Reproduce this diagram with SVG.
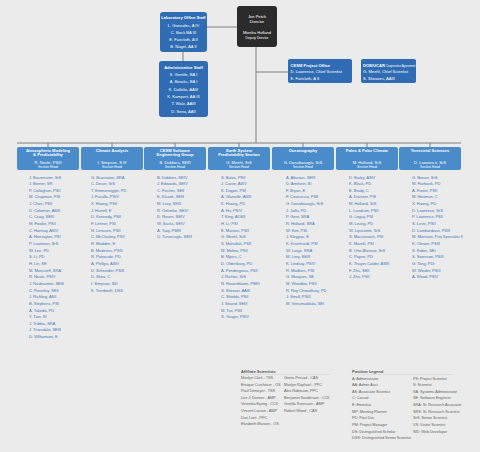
<svg xmlns="http://www.w3.org/2000/svg" width="480" height="452" viewBox="0 0 480 452">
<style>
text{font-family:"Liberation Sans",Arial,sans-serif}
.top{fill:#2f6cb3}
.dir{fill:#2b2b2b}
.sec{fill:#4a8cca}
.w{fill:#fff;font-size:4.1px;text-anchor:middle}
.wl{fill:#fff;font-size:4.1px}
.b{font-weight:bold}
.s{font-size:3.3px}
.ln{stroke:#7f7f7f;stroke-width:1;fill:none}
.li{fill:#4379bd;font-size:4.1px;letter-spacing:-0.08px}
.bt{fill:#666;font-size:3.9px;letter-spacing:-0.08px}
.bh{fill:#555;font-size:4px;font-weight:bold}
</style>
<rect width="480" height="452" fill="#ebebeb"/>
<g id="connectors">
<path class="ln" d="M207 27H237M183 52V61M256 47V143M256 72H288M17 143H461"/>
<path class="ln" d="M48 143V147M112 143V147M175 143V147M239 143V147M303 143V147M367 143V147M430 143V147"/>
</g>
<g id="lab-office">
<rect class="top" x="160" y="12" width="47" height="40" rx="3"/>
<text class="w b" x="183.5" y="18.5">Laboratory Office Staff</text>
<text class="w" x="183.5" y="26.5">L. Gonzales, A IV</text>
<text class="w" x="183.5" y="33.5">C. Bock BA III</text>
<text class="w" x="183.5" y="40.5">E. Faircloth, A II</text>
<text class="w" x="183.5" y="48">B. Nagel, AA II</text>
</g>
<g id="director">
<rect class="dir" x="237" y="6" width="40" height="41" rx="3"/>
<text class="w" x="257" y="17.5">Jon Petch</text>
<text class="w" x="257" y="23">Director</text>
<text class="w" x="257" y="33.5">Monika Holland</text>
<text class="w s" x="257" y="38.5">Deputy Director</text>
</g>
<g id="admin-staff">
<rect class="top" x="159" y="61" width="49" height="56" rx="3"/>
<text class="w b" x="183.5" y="68.5">Administrative Staff</text>
<text class="w" x="183.5" y="76">S. Gentile, BA I</text>
<text class="w" x="183.5" y="83.3">A. Brooks, BA I</text>
<text class="w" x="183.5" y="90.6">K. Dallolio, AAIII</text>
<text class="w" x="183.5" y="97.9">K. Kampert, AA III</text>
<text class="w" x="183.5" y="105.2">T. Walz, AAIII</text>
<text class="w" x="183.5" y="112.5">D. Sena, AAII</text>
</g>
<g id="cesm-project-office">
<rect class="top" x="288" y="59" width="64" height="24" rx="2"/>
<text class="wl b" x="290.5" y="66.5">CESM Project Office</text>
<text class="wl" x="290.5" y="73.3">D. Lawrence, Chief Scientist</text>
<text class="wl" x="290.5" y="79.8">E. Faircloth, A II</text>
</g>
<g id="doe-ucar">
<rect class="top" x="361" y="59" width="55" height="24" rx="2"/>
<text class="wl" x="363" y="66.5"><tspan class="b">DOE/UCAR</tspan> <tspan font-size="2.8">Cooperative Agreement</tspan></text>
<text class="wl" x="363" y="73.3">G. Meehl, Chief Scientist</text>
<text class="wl" x="363" y="79.8">S. Sheaves, AAIII</text>
</g>
<g id="sec-atm">
<rect class="sec" x="17" y="147" width="62" height="23" rx="2"/>
<text class="w b" x="48" y="151.5">Atmospheric Modeling</text>
<text class="w b" x="48" y="156">&amp; Predictability</text>
<text class="w" x="48" y="163.5">R. Neale, PSIII</text>
<text class="w s" x="48" y="167.5">Section Head</text>
<text class="li" y="178.5"><tspan x="29">J. Bacmeister, SrS</tspan><tspan x="29" dy="6.65">J. Berner, SR</tspan><tspan x="29" dy="6.65">P. Callaghan, PSII</tspan><tspan x="29" dy="6.65">M. Chapman, PSI</tspan><tspan x="29" dy="6.65">J. Chen, PSII</tspan><tspan x="29" dy="6.65">D. Coleman, ASIII</tspan><tspan x="29" dy="6.65">C. Craig, SEIII</tspan><tspan x="29" dy="6.65">M. Fowler, PSII</tspan><tspan x="29" dy="6.65">C. Hannay, ASIV</tspan><tspan x="29" dy="6.65">A. Herrington, PSI</tspan><tspan x="29" dy="6.65">P. Lauritzen, SrS</tspan><tspan x="29" dy="6.65">W. Lee, PD</tspan><tspan x="29" dy="6.65">S. Li, PD</tspan><tspan x="29" dy="6.65">H. Lin, SE</tspan><tspan x="29" dy="6.65">M. Moncrieff, SRA</tspan><tspan x="29" dy="6.65">R. Neale, PSIV</tspan><tspan x="29" dy="6.65">J. Nusbaumer, SEIII</tspan><tspan x="29" dy="6.65">C. Peverley, SEII</tspan><tspan x="29" dy="6.65">J. Richling, ASII</tspan><tspan x="29" dy="6.65">B. Stephens, PSI</tspan><tspan x="29" dy="6.65">A. Takeda, PD</tspan><tspan x="29" dy="6.65">Y. Tian, SI</tspan><tspan x="29" dy="6.65">J. Tribbia, SRA</tspan><tspan x="29" dy="6.65">J. Truesdale, SEIII</tspan><tspan x="29" dy="6.65">D. Williamson, E</tspan></text>
</g>
<g id="sec-climate">
<rect class="sec" x="81" y="147" width="62" height="23" rx="2"/>
<text class="w b" x="112" y="152">Climate Analysis</text>
<text class="w" x="112" y="163.5">I. Simpson, S III</text>
<text class="w s" x="112" y="167.5">Section Head</text>
<text class="li" y="178.5"><tspan x="91">G. Branstator, SRA</tspan><tspan x="91" dy="6.65">C. Deser, SrS</tspan><tspan x="91" dy="6.65">T. Emmenegger, PD</tspan><tspan x="91" dy="6.65">J. Fasullo, PSIV</tspan><tspan x="91" dy="6.65">X. Huang, PSII</tspan><tspan x="91" dy="6.65">J. Hurrell, E</tspan><tspan x="91" dy="6.65">D. Kennedy, PSII</tspan><tspan x="91" dy="6.65">F. Lehner, PSI</tspan><tspan x="91" dy="6.65">N. Lenssen, PSII</tspan><tspan x="91" dy="6.65">C. McCluskey, PSII</tspan><tspan x="91" dy="6.65">R. Madden, E</tspan><tspan x="91" dy="6.65">B. Medeiros, PSIII</tspan><tspan x="91" dy="6.65">R. Patnaude, PD</tspan><tspan x="91" dy="6.65">A. Phillips, ASIV</tspan><tspan x="91" dy="6.65">D. Schneider, PSIII</tspan><tspan x="91" dy="6.65">D. Shea, C</tspan><tspan x="91" dy="6.65">I. Simpson, SIII</tspan><tspan x="91" dy="6.65">K. Trenberth, DSS</tspan></text>
</g>
<g id="sec-cesm-seg">
<rect class="sec" x="144" y="147" width="62" height="23" rx="2"/>
<text class="w b" x="175" y="151.5">CESM Software</text>
<text class="w b" x="175" y="156">Engineering Group</text>
<text class="w" x="175" y="163.5">B. Dobbins, SEIII</text>
<text class="w s" x="175" y="167.5">Section Head</text>
<text class="li" y="178.5"><tspan x="157">B. Dobbins, SEIV</tspan><tspan x="157" dy="6.65">J. Edwards, SEIV</tspan><tspan x="157" dy="6.65">C. Fischer, SEII</tspan><tspan x="157" dy="6.65">E. Kluzek, SEIII</tspan><tspan x="157" dy="6.65">M. Levy, SEIII</tspan><tspan x="157" dy="6.65">R. Oehmke, SEIV</tspan><tspan x="157" dy="6.65">D. Rosen, SEIV</tspan><tspan x="157" dy="6.65">W. Sacks, SEIV</tspan><tspan x="157" dy="6.65">A. Tsay, PMIII</tspan><tspan x="157" dy="6.65">U. Turuncoglu, SEIII</tspan></text>
</g>
<g id="sec-esp">
<rect class="sec" x="208" y="147" width="62" height="23" rx="2"/>
<text class="w b" x="239" y="151.5">Earth System</text>
<text class="w b" x="239" y="156">Predictability Section</text>
<text class="w" x="239" y="163.5">G. Meehl, SrS</text>
<text class="w s" x="239" y="167.5">Section Head</text>
<text class="li" y="178.5"><tspan x="221">S. Bates, PSII</tspan><tspan x="221" dy="6.65">J. Caron, ASIV</tspan><tspan x="221" dy="6.65">K. Dagon, PSI</tspan><tspan x="221" dy="6.65">A. Glanville, ASIII</tspan><tspan x="221" dy="6.65">K. Huang, PD</tspan><tspan x="221" dy="6.65">A. Hu, PSIV</tspan><tspan x="221" dy="6.65">T. King, ADSII</tspan><tspan x="221" dy="6.65">H. Li, PSI</tspan><tspan x="221" dy="6.65">E. Maroon, PSII</tspan><tspan x="221" dy="6.65">G. Meehl, SrS</tspan><tspan x="221" dy="6.65">S. Mahallak, PSII</tspan><tspan x="221" dy="6.65">M. Molina, PSII</tspan><tspan x="221" dy="6.65">B. Myers, C</tspan><tspan x="221" dy="6.65">D. Oldenburg, PD</tspan><tspan x="221" dy="6.65">A. Pendergrass, PSII</tspan><tspan x="221" dy="6.65">J. Richter, SrS</tspan><tspan x="221" dy="6.65">N. Rosenbloom, PMIII</tspan><tspan x="221" dy="6.65">S. Shearer, AAIII</tspan><tspan x="221" dy="6.65">C. Shields, PSII</tspan><tspan x="221" dy="6.65">J. Strand, SEIII</tspan><tspan x="221" dy="6.65">M. Tso, PSII</tspan><tspan x="221" dy="6.65">S. Yeager, PSIV</tspan></text>
</g>
<g id="sec-ocean">
<rect class="sec" x="272" y="147" width="62" height="23" rx="2"/>
<text class="w b" x="303" y="152">Oceanography</text>
<text class="w" x="303" y="163.5">G. Danabasoglu, SrS</text>
<text class="w s" x="303" y="167.5">Section Head</text>
<text class="li" y="178.5"><tspan x="286">A. Altuntas, SEIII</tspan><tspan x="286" dy="6.65">D. Amrhein, SI</tspan><tspan x="286" dy="6.65">F. Bryan, E</tspan><tspan x="286" dy="6.65">F. Castruccio, PSII</tspan><tspan x="286" dy="6.65">G. Danabasoglu, SrS</tspan><tspan x="286" dy="6.65">J. Jaffa, PD</tspan><tspan x="286" dy="6.65">P. Gent, SRA</tspan><tspan x="286" dy="6.65">R. Holland, SRA</tspan><tspan x="286" dy="6.65">W. Kim, PSI</tspan><tspan x="286" dy="6.65">J. Kleypas, E</tspan><tspan x="286" dy="6.65">K. Krumhardt, PSI</tspan><tspan x="286" dy="6.65">W. Large, SRA</tspan><tspan x="286" dy="6.65">M. Levy, SEIII</tspan><tspan x="286" dy="6.65">K. Lindsay, PSIV</tspan><tspan x="286" dy="6.65">R. Madkins, PSI</tspan><tspan x="286" dy="6.65">G. Marques, SE</tspan><tspan x="286" dy="6.65">M. Woodlon, PSII</tspan><tspan x="286" dy="6.65">R. Roy Chowdhury, PD</tspan><tspan x="286" dy="6.65">J. Small, PSIII</tspan><tspan x="286" dy="6.65">M. Venumuddula, SEI</tspan></text>
</g>
<g id="sec-paleo">
<rect class="sec" x="336" y="147" width="62" height="23" rx="2"/>
<text class="w b" x="367" y="152">Paleo &amp; Polar Climate</text>
<text class="w" x="367" y="163.5">M. Holland, SrS</text>
<text class="w s" x="367" y="167.5">Section Head</text>
<text class="li" y="178.5"><tspan x="349">D. Bailey, ASIV</tspan><tspan x="349" dy="6.65">K. Black, PD</tspan><tspan x="349" dy="6.65">E. Brady, C</tspan><tspan x="349" dy="6.65">A. Duvivier, PSI</tspan><tspan x="349" dy="6.65">M. Holland, SrS</tspan><tspan x="349" dy="6.65">L. Landrum, PSII</tspan><tspan x="349" dy="6.65">G. Leguy, PSI</tspan><tspan x="349" dy="6.65">M. Leung, PD</tspan><tspan x="349" dy="6.65">W. Lipscomb, SrS</tspan><tspan x="349" dy="6.65">S. Macarewich, PSI</tspan><tspan x="349" dy="6.65">K. Marelli, PSI</tspan><tspan x="349" dy="6.65">B. Otto-Bliesner, SrS</tspan><tspan x="349" dy="6.65">C. Payne, PD</tspan><tspan x="349" dy="6.65">K. Thayer-Calder, ASIII</tspan><tspan x="349" dy="6.65">F. Zhu, SEII</tspan><tspan x="349" dy="6.65">J. Zhu, PSII</tspan></text>
</g>
<g id="sec-terr">
<rect class="sec" x="399" y="147" width="62" height="23" rx="2"/>
<text class="w b" x="430" y="152">Terrestrial Sciences</text>
<text class="w" x="430" y="163.5">D. Lawrence, SrS</text>
<text class="w s" x="430" y="167.5">Section Head</text>
<text class="li" y="178.5"><tspan x="412">G. Bonan, SrS</tspan><tspan x="412" dy="6.65">M. Fairbank, PD</tspan><tspan x="412" dy="6.65">A. Foster, PSII</tspan><tspan x="412" dy="6.65">M. Hartman, C</tspan><tspan x="412" dy="6.65">X. Huang, PD</tspan><tspan x="412" dy="6.65">D. Lawrence, SrS</tspan><tspan x="412" dy="6.65">P. Lawrence, PSII</tspan><tspan x="412" dy="6.65">S. Levis, PSII</tspan><tspan x="412" dy="6.65">D. Lombardozzi, PSIII</tspan><tspan x="412" dy="6.65">M. Morrison, Proj Specialist II</tspan><tspan x="412" dy="6.65">K. Oleson, PSIII</tspan><tspan x="412" dy="6.65">S. Rabin, SEI</tspan><tspan x="412" dy="6.65">S. Swenson, PSIII</tspan><tspan x="412" dy="6.65">G. Tang, PDI</tspan><tspan x="412" dy="6.65">W. Wieder, PSIII</tspan><tspan x="412" dy="6.65">A. Wood, PSIV</tspan></text>
</g>
<g id="affiliates">
<text class="bh" x="241" y="372.5">Affiliate Scientists</text>
<line x1="241" y1="374.5" x2="330" y2="374.5" stroke="#cfcfcf" stroke-width="0.5"/>
<text class="bt" y="379"><tspan x="241">Marilyn Clark - TSS</tspan><tspan x="241" dy="6.6">Enrique Curchitser - OS</tspan><tspan x="241" dy="6.6">Paul Dirmeyer - TSS</tspan><tspan x="241" dy="6.6">Lee J. Donner - AMP</tspan><tspan x="241" dy="6.6">Veronika Eyring - CCII</tspan><tspan x="241" dy="6.6">Vincent Larson - AMP</tspan><tspan x="241" dy="6.6">Dan Lunt - PPC</tspan><tspan x="241" dy="6.6">Elizabeth Maroon - OS</tspan></text>
<text class="bt" y="379"><tspan x="284">Geeta Persad - CAS</tspan><tspan x="284" dy="6.6">Marilyn Raphael - PPC</tspan><tspan x="284" dy="6.6">Alex Robinson, PPC</tspan><tspan x="284" dy="6.6">Benjamin Sanderson - CCII</tspan><tspan x="284" dy="6.6">Gunilla Svensson - AMP</tspan><tspan x="284" dy="6.6">Robert Wood - CAS</tspan></text>
</g>
<g id="legend">
<text class="bh" x="352" y="372.5">Position Legend</text>
<line x1="352" y1="374.5" x2="452" y2="374.5" stroke="#cfcfcf" stroke-width="0.5"/>
<text class="bt" y="379.5"><tspan x="352">A: Administrator</tspan><tspan x="352" dy="6.65">AA: Admin Asst.</tspan><tspan x="352" dy="6.65">AS: Associate Scientist</tspan><tspan x="352" dy="6.65">C: Casual</tspan><tspan x="352" dy="6.65">E: Emeritus</tspan><tspan x="352" dy="6.65">MP: Meeting Planner</tspan><tspan x="352" dy="6.65">PD: Post Doc</tspan><tspan x="352" dy="6.65">PM: Project Manager</tspan><tspan x="352" dy="6.65">DS: Distinguished Scholar</tspan><tspan x="352" dy="6.65">DSS: Distinguished Senior Scientist</tspan></text>
<text class="bt" y="379.5"><tspan x="413">PS: Project Scientist</tspan><tspan x="413" dy="6.65">S: Scientist</tspan><tspan x="413" dy="6.65">SA: Systems Administrator</tspan><tspan x="413" dy="6.65">SE: Software Engineer</tspan><tspan x="413" dy="6.65">SRA: Sr. Research Associate</tspan><tspan x="413" dy="6.65">SRS: Sr. Research Scientist</tspan><tspan x="413" dy="6.65">SrS: Senior Scientist</tspan><tspan x="413" dy="6.65">VS: Visitor Scientist</tspan><tspan x="413" dy="6.65">WD: Web Developer</tspan></text>
</g>
</svg>
